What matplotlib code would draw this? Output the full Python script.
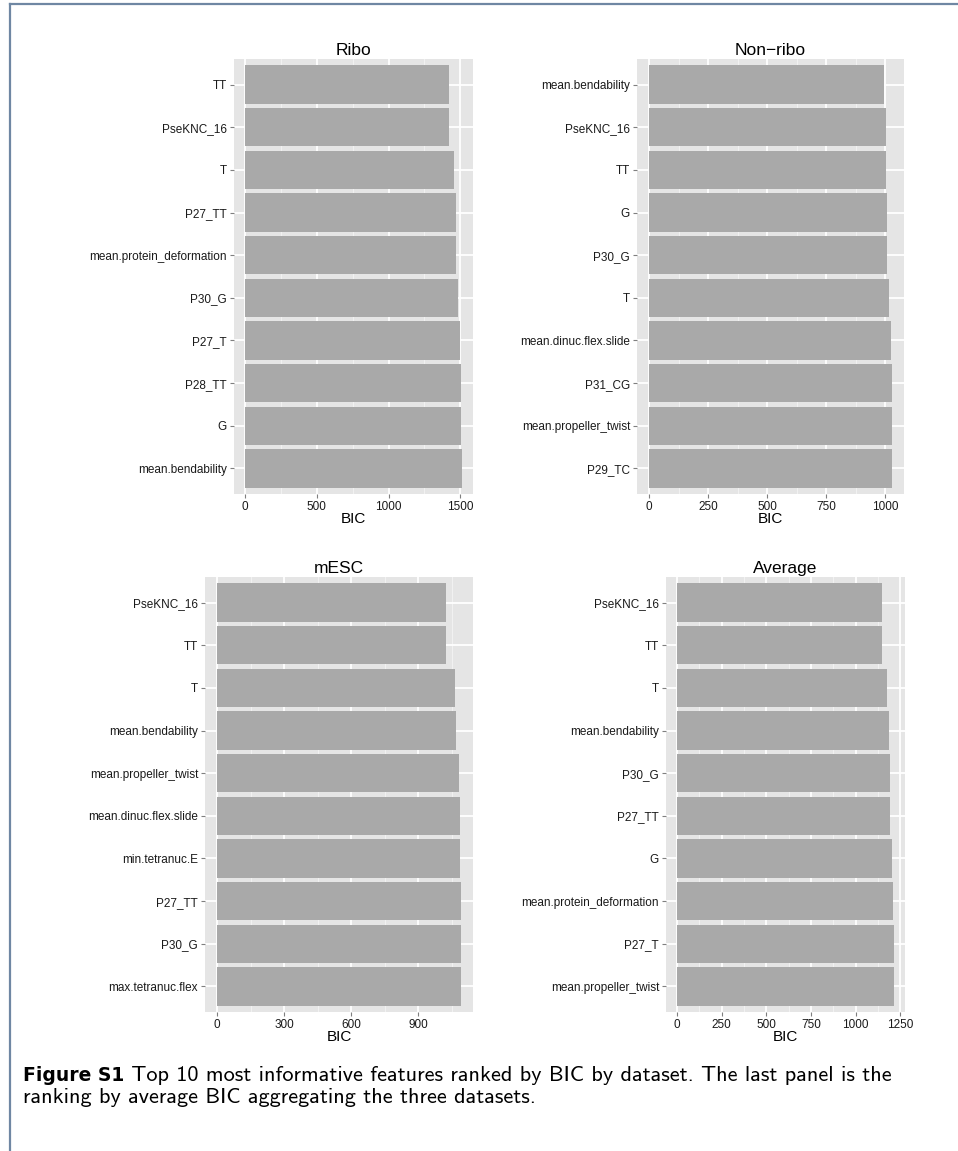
import matplotlib.pyplot as plt
from matplotlib.lines import Line2D
import numpy as np

# top-to-bottom order as shown in each panel
ribo_labels = ['TT', 'PseKNC_16', 'T', 'P27_TT', 'mean.protein_deformation',
               'P30_G', 'P27_T', 'P28_TT', 'G', 'mean.bendability']
ribo_bic = [1421, 1420, 1456, 1470, 1470, 1484, 1498, 1505, 1505, 1512]

nonribo_labels = ['mean.bendability', 'PseKNC_16', 'TT', 'G', 'P30_G', 'T',
                  'mean.dinuc.flex.slide', 'P31_CG', 'mean.propeller_twist', 'P29_TC']
nonribo_bic = [993, 1001, 1001, 1005, 1005, 1014, 1022, 1027, 1027, 1027]

mesc_labels = ['PseKNC_16', 'TT', 'T', 'mean.bendability', 'mean.propeller_twist',
               'mean.dinuc.flex.slide', 'min.tetranuc.E', 'P27_TT', 'P30_G',
               'max.tetranuc.flex']
mesc_bic = [1022, 1022, 1063, 1067, 1081, 1085, 1085, 1090, 1090, 1090]

avg_labels = ['PseKNC_16', 'TT', 'T', 'mean.bendability', 'P30_G', 'P27_TT', 'G',
              'mean.protein_deformation', 'P27_T', 'mean.propeller_twist']
avg_bic = [1148, 1148, 1178, 1189, 1194, 1194, 1205, 1211, 1216, 1216]

ribo_ticks = [0, 500, 1000, 1500]
nonribo_ticks = [0, 250, 500, 750, 1000]
mesc_ticks = [0, 300, 600, 900]
avg_ticks = [0, 250, 500, 750, 1000, 1250]

W, H = 958, 1151
fig = plt.figure(figsize=(W / 100, H / 100), dpi=100)

# panel boxes in pixels: left, top, right, bottom
panels = [
    ('Ribo', ribo_labels, ribo_bic, ribo_ticks, (234, 59, 473, 494)),
    ('Non\u2212ribo', nonribo_labels, nonribo_bic, nonribo_ticks, (637, 59, 904, 494)),
    ('mESC', mesc_labels, mesc_bic, mesc_ticks, (205, 577, 473, 1012)),
    ('Average', avg_labels, avg_bic, avg_ticks, (666, 577, 905, 1012)),
]

font = 'Liberation Sans'
for title, labels, vals, ticks, (l, t, r, b) in panels:
    ax = fig.add_axes([l / W, 1 - b / H, (r - l) / W, (b - t) / H])
    ax.set_facecolor('#E5E5E5')
    y = np.arange(len(labels))
    step = ticks[1] - ticks[0]
    vmax = max(vals)
    lo, hi = -0.05 * vmax, 1.05 * vmax
    # ggplot-style minor grid halfway between majors
    for m in np.arange(step / 2, hi, step):
        ax.axvline(m, color='#F2F2F2', lw=0.7, zorder=1)
    for tk in ticks:
        ax.axvline(tk, color='white', lw=1.3, zorder=1)
    for yy in y:
        ax.axhline(yy, color='white', lw=1.3, zorder=1)
    ax.barh(y, vals, height=0.9, color='#A9A9A9', zorder=2)
    ax.set_xlim(lo, hi)
    ax.set_ylim(len(labels) - 0.4, -0.6)
    ax.set_yticks(y)
    ax.set_yticklabels(labels, fontsize=8.5, family=font, color='#1a1a1a')
    ax.set_xticks(ticks)
    ax.set_xticklabels([str(tk) for tk in ticks], fontsize=8.5, family=font, color='#1a1a1a')
    ax.tick_params(length=3, width=0.8, color='#7F7F7F', pad=2)
    for s in ax.spines.values():
        s.set_visible(False)
    ax.set_title(title, fontsize=12.5, family=font, pad=3)
    ax.set_xlabel('BIC', fontsize=11, family=font, labelpad=-1)

# page frame (top and left edges)
fig.add_artist(Line2D([9.5 / W, 9.5 / W], [0, 1 - 3.5 / H], color='#6F87A3', lw=1.6))
fig.add_artist(Line2D([9.5 / W, 1], [1 - 3.5 / H, 1 - 3.5 / H], color='#6F87A3', lw=1.6))

# caption
t1 = fig.text(23 / W, 1 - 1081 / H, 'Figure S1', fontsize=13.5, weight='bold',
              family='DejaVu Sans', va='baseline')
cap1 = ' Top 10 most informative features ranked by BIC by dataset. The last panel is the'
cap2 = 'ranking by average BIC aggregating the three datasets.'
fig.canvas.draw()
bb = t1.get_window_extent()
fig.text(bb.x1 / W, 1 - 1081 / H, cap1, fontsize=16.0, family='cmss10', va='baseline')
fig.text(23 / W, 1 - 1103 / H, cap2, fontsize=16.0, family='cmss10', va='baseline')

fig.savefig('out.png', dpi=100)
